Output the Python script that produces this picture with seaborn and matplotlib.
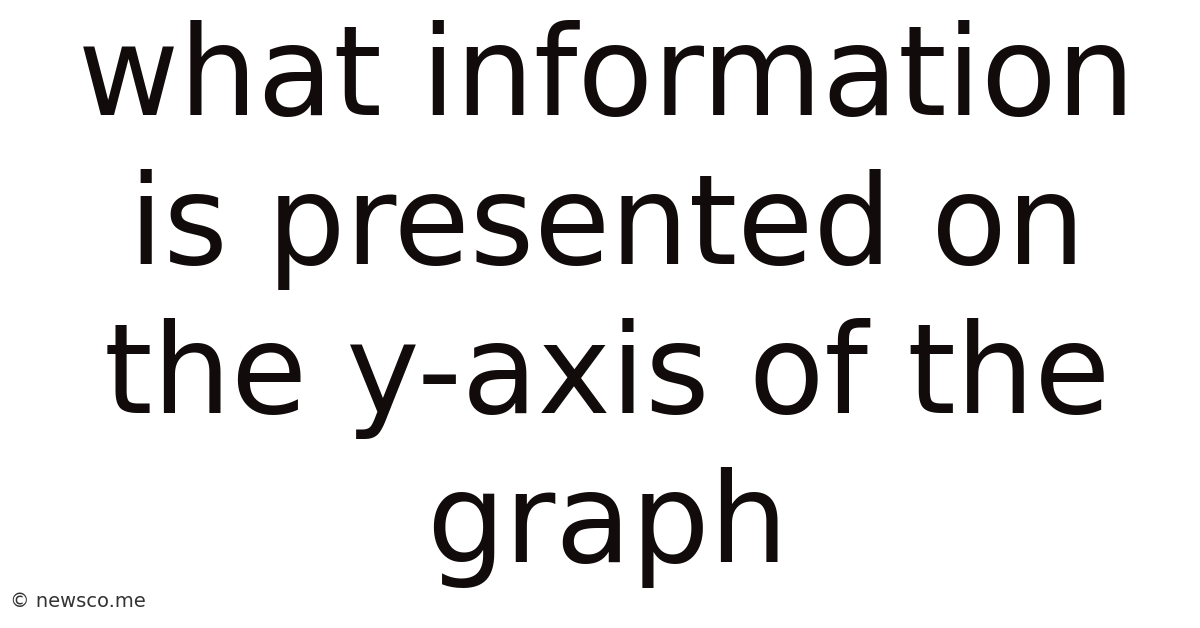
import matplotlib.pyplot as plt
import seaborn as sns

# text content of the card
title_lines = ["what information", "is presented on", "the y-axis of the", "graph"]
baselines_px = [115, 264, 413, 562]
footer = "© newsco.me"

sns.set_theme(style="white")
plt.rcParams['font.family'] = ['DejaVu Sans']

W, H = 1200, 628
fig = plt.figure(figsize=(W / 100, H / 100), dpi=100)
fig.patch.set_facecolor("white")

for line, y in zip(title_lines, baselines_px):
    fig.text(0.5 + 7 / W, 1 - y / H, line, ha="center", va="baseline",
             fontsize=89, color="#120b0b")

fig.text(10 / W, 1 - 607 / H, footer, ha="left", va="baseline",
         fontsize=14, color="#333333")

fig.savefig("out.png", dpi=100, facecolor="white")
